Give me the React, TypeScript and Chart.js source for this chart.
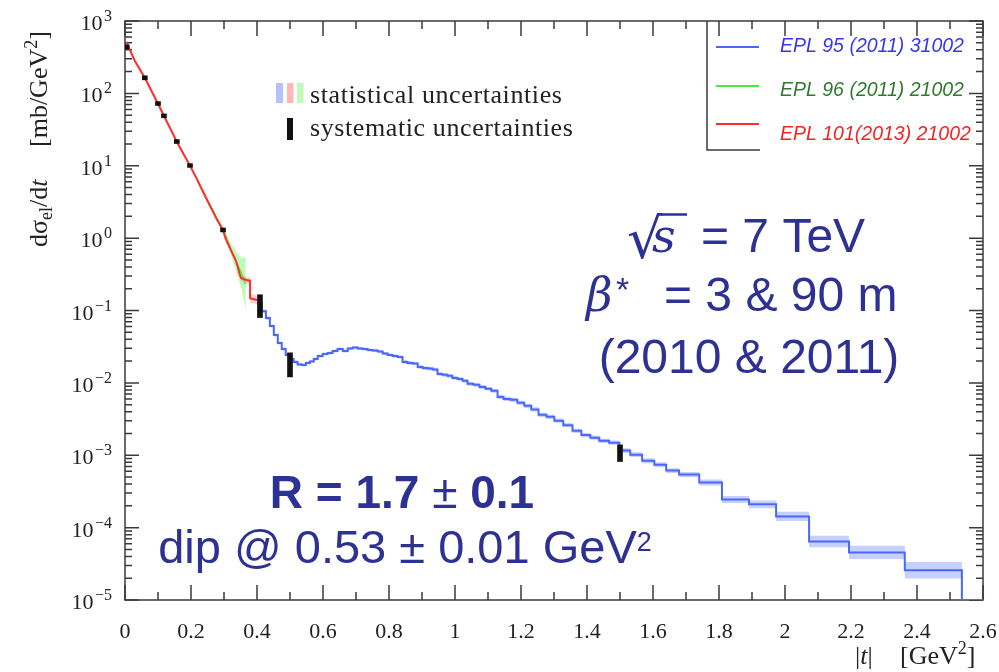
import React, { useEffect, useRef } from "react";
import { Chart, registerables } from "chart.js";

Chart.register(...registerables);

// ---- EPL 95 (2011) 31002 : histogram bin edges |t| [GeV^2] and dσ/dt [mb/GeV^2]
const blueEdges = [
  0.400, 0.415, 0.427, 0.439, 0.451, 0.463, 0.475, 0.487, 0.499, 0.511,
  0.523, 0.536, 0.548, 0.560, 0.572, 0.584, 0.599, 0.614, 0.629, 0.644,
  0.660, 0.675, 0.690, 0.705, 0.720, 0.735, 0.750, 0.766, 0.781, 0.796,
  0.811, 0.826, 0.841, 0.856, 0.871, 0.887, 0.902, 0.917, 0.932, 0.947,
  0.962, 0.977, 0.992, 1.008, 1.023, 1.038, 1.056, 1.074, 1.092, 1.110,
  1.129, 1.147, 1.168, 1.189, 1.210, 1.231, 1.253, 1.277, 1.301, 1.328,
  1.356, 1.383, 1.410, 1.437, 1.467, 1.498, 1.531, 1.567, 1.604, 1.640,
  1.679, 1.740, 1.809, 1.891, 1.973, 2.073, 2.194, 2.363, 2.536, 2.600,
];
const blueValues = [
  0.126, 0.098, 0.0785, 0.061, 0.0458, 0.0356, 0.0294, 0.0243, 0.0214, 0.0195,
  0.0180, 0.0177, 0.0188, 0.0198, 0.0214, 0.0235, 0.0251, 0.0259, 0.0276, 0.0294,
  0.0276, 0.0299, 0.0309, 0.0299, 0.0294, 0.0285, 0.0280, 0.0272, 0.0255, 0.0243,
  0.0235, 0.0228, 0.0195, 0.0188, 0.0185, 0.0166, 0.0160, 0.0158, 0.0153, 0.0133,
  0.0129, 0.0125, 0.0117, 0.0113, 0.01066, 0.0097, 0.0094, 0.0088, 0.0083, 0.00776,
  0.0064, 0.0060, 0.00583, 0.0053, 0.00482, 0.0043, 0.00362, 0.0034, 0.0030, 0.0026,
  0.00218, 0.0019, 0.00175, 0.00158, 0.00149, 0.00116, 0.00102, 0.00084, 0.00074, 0.000614,
  0.00054, 0.00042, 0.000245, 0.00021, 0.000143, 0.0000645, 0.0000455, 0.0000257, 0.00001,
];
// relative statistical uncertainty per bin
const blueStat = [
  0.05, 0.05, 0.05, 0.05, 0.05, 0.05, 0.05, 0.05, 0.05, 0.05,
  0.05, 0.05, 0.05, 0.05, 0.05, 0.05, 0.05, 0.05, 0.05, 0.05,
  0.05, 0.05, 0.05, 0.05, 0.05, 0.05, 0.05, 0.05, 0.05, 0.05,
  0.05, 0.05, 0.06, 0.06, 0.06, 0.06, 0.06, 0.06, 0.06, 0.06,
  0.06, 0.06, 0.06, 0.06, 0.06, 0.06, 0.06, 0.06, 0.06, 0.06,
  0.07, 0.07, 0.07, 0.07, 0.07, 0.07, 0.07, 0.07, 0.07, 0.07,
  0.07, 0.07, 0.07, 0.07, 0.07, 0.08, 0.08, 0.08, 0.08, 0.08,
  0.09, 0.10, 0.12, 0.13, 0.16, 0.20, 0.23, 0.30, 0.0,
];

// ---- EPL 101 (2013) 21002
const redT = [0.004, 0.03, 0.06, 0.10, 0.118, 0.157, 0.197, 0.217, 0.247, 0.277, 0.297,
  0.305, 0.315, 0.325, 0.335, 0.342, 0.348, 0.352, 0.372, 0.379, 0.379, 0.400];
const redValues = [514, 280, 164, 72, 49, 21.5, 10, 6.7, 3.5, 1.87, 1.3,
  0.98, 0.78, 0.62, 0.50, 0.40, 0.31, 0.28, 0.26, 0.26, 0.148, 0.14];
const redStat = [0.04, 0.04, 0.04, 0.04, 0.04, 0.04, 0.04, 0.05, 0.05, 0.05, 0.06,
  0.07, 0.08, 0.08, 0.09, 0.10, 0.10, 0.10, 0.12, 0.12, 0.15, 0.15];

// ---- EPL 96 (2011) 21002
const greenT = [0.22, 0.25, 0.28, 0.30, 0.32, 0.34, 0.355, 0.366];
const greenValues = [6.1, 3.3, 1.8, 1.2, 0.72, 0.44, 0.31, 0.23];
const greenStat = [0.05, 0.06, 0.08, 0.12, 0.2, 0.4, 0.7, 1.4];

// ---- systematic uncertainty bands (low / high)
const sysT = [0.005, 0.06, 0.10, 0.118, 0.157, 0.197, 0.297, 0.409, 0.50, 1.50];
const sysLo = [412, 154, 68, 46, 20.3, 9.5, 1.22, 0.08, 0.0121, 0.00082];
const sysHi = [468, 175, 77, 52, 23, 10.7, 1.38, 0.165, 0.026, 0.00139];

// ---- axes
const xMajorTicks = [0, 0.2, 0.4, 0.6, 0.8, 1.0, 1.2, 1.4, 1.6, 1.8, 2.0, 2.2, 2.4, 2.6];
const xTickLabels = ["0", "0.2", "0.4", "0.6", "0.8", "1", "1.2", "1.4", "1.6", "1.8", "2", "2.2", "2.4", "2.6"];
const xMinorTicks = [0.1, 0.3, 0.5, 0.7, 0.9, 1.1, 1.3, 1.5, 1.7, 1.9, 2.1, 2.3, 2.5];
const yDecades = [-5, -4, -3, -2, -1, 0, 1, 2, 3];
const yExpLabels = ["\u22125", "\u22124", "\u22123", "\u22122", "\u22121", "0", "1", "2", "3"];
const logMantissas = [2, 3, 4, 5, 6, 7, 8, 9];

const legendLabels = ["EPL 95 (2011) 31002", "EPL 96 (2011) 21002", "EPL 101(2013) 21002"];

const BLUE = "#4a68ff";
const RED = "#ff2e2e";
const GREEN = "#3cf03c";
const NAVY = "#2d3193";
const AXIS = "#3a3a3a";
const SERIF = '"Liberation Serif", "Times New Roman", serif';
const SANS = '"Liberation Sans", Arial, sans-serif';
const MATH = '"DejaVu Serif", serif';

type Run = { t: string; f: string; dy?: number; dx?: number };

function runsWidth(ctx: CanvasRenderingContext2D, runs: Run[]) {
  let w = 0;
  for (const r of runs) {
    ctx.font = r.f;
    w += (r.dx || 0) + ctx.measureText(r.t).width;
  }
  return w;
}

function drawRuns(ctx: CanvasRenderingContext2D, runs: Run[], x: number, y: number, align: "left" | "center" | "right" = "left") {
  const w = runsWidth(ctx, runs);
  let cx = align === "center" ? x - w / 2 : align === "right" ? x - w : x;
  ctx.textAlign = "left";
  for (const r of runs) {
    ctx.font = r.f;
    cx += r.dx || 0;
    ctx.fillText(r.t, cx, y + (r.dy || 0));
    cx += ctx.measureText(r.t).width;
  }
  return cx;
}

function stepPoints(edges: number[], vals: number[], scale: (v: number, i: number) => number) {
  const pts = vals.map((v, i) => ({ x: edges[i], y: scale(v, i) }));
  pts.push({ x: edges[edges.length - 1], y: scale(vals[vals.length - 1], vals.length - 1) });
  return pts;
}

const framePlugin = {
  id: "frameTicks",
  beforeDatasetsDraw(chart: any) {
    const { ctx, chartArea: a, scales } = chart;
    const xs = scales.x;
    const ys = scales.y;
    ctx.save();
    ctx.strokeStyle = AXIS;
    ctx.lineWidth = 1.5;
    ctx.strokeRect(a.left, a.top, a.right - a.left, a.bottom - a.top);
    ctx.beginPath();
    const xTick = (v: number, len: number) => {
      const p = xs.getPixelForValue(v);
      ctx.moveTo(p, a.bottom);
      ctx.lineTo(p, a.bottom - len);
      ctx.moveTo(p, a.top);
      ctx.lineTo(p, a.top + len);
    };
    xMajorTicks.forEach((v) => xTick(v, 15));
    xMinorTicks.forEach((v) => xTick(v, 8));
    const yTick = (v: number, len: number) => {
      const p = ys.getPixelForValue(v);
      ctx.moveTo(a.left, p);
      ctx.lineTo(a.left + len, p);
      ctx.moveTo(a.right, p);
      ctx.lineTo(a.right - len, p);
    };
    yDecades.forEach((d) => yTick(Math.pow(10, d), 14));
    yDecades.slice(0, -1).forEach((d) => logMantissas.forEach((m) => yTick(m * Math.pow(10, d), 7)));
    ctx.stroke();
    ctx.restore();
  },
  afterDraw(chart: any) {
    const { ctx, chartArea: a, scales } = chart;
    const xs = scales.x;
    const ys = scales.y;
    ctx.save();
    ctx.textBaseline = "alphabetic";
    ctx.fillStyle = "#222";

    // tick labels
    ctx.font = `22px ${SERIF}`;
    ctx.textAlign = "center";
    xMajorTicks.forEach((v, i) => ctx.fillText(xTickLabels[i], xs.getPixelForValue(v), 638));
    yDecades.forEach((d, i) => {
      const p = ys.getPixelForValue(Math.pow(10, d));
      drawRuns(ctx, [
        { t: "10", f: `22px ${SERIF}` },
        { t: yExpLabels[i], f: `16px ${SERIF}`, dy: -9, dx: 1.5 },
      ], 112, p + 9, "right");
    });

    // axis titles
    drawRuns(ctx, [
      { t: "|", f: `26px ${SERIF}` },
      { t: "t", f: `italic 26px ${SERIF}` },
      { t: "|", f: `26px ${SERIF}` },
    ], 855, 664);
    drawRuns(ctx, [
      { t: "[GeV", f: `26px ${SERIF}` },
      { t: "2", f: `18px ${SERIF}`, dy: -10 },
      { t: "]", f: `26px ${SERIF}` },
    ], 900, 664);

    ctx.save();
    ctx.translate(47, 247);
    ctx.rotate(-Math.PI / 2);
    drawRuns(ctx, [
      { t: "d", f: `26px ${SERIF}` },
      { t: "\u03c3", f: `26px ${SERIF}` },
      { t: "el", f: `18px ${SERIF}`, dy: 5 },
      { t: "/d", f: `26px ${SERIF}` },
      { t: "t", f: `italic 26px ${SERIF}` },
    ], 0, 0);
    drawRuns(ctx, [
      { t: "[mb/GeV", f: `26px ${SERIF}` },
      { t: "2", f: `18px ${SERIF}`, dy: -10 },
      { t: "]", f: `26px ${SERIF}` },
    ], 100, 0);
    ctx.restore();

    // uncertainty key
    ctx.fillStyle = "rgb(182,192,255)";
    ctx.fillRect(276, 83, 7, 20);
    ctx.fillStyle = "rgb(255,182,182)";
    ctx.fillRect(287, 83, 6.5, 20);
    ctx.fillStyle = "rgb(192,250,182)";
    ctx.fillRect(297, 83, 6.5, 20);
    ctx.fillStyle = "#111";
    ctx.fillRect(287, 118, 6, 22);
    ctx.fillStyle = "#222";
    ctx.font = `26px ${SERIF}`;
    ctx.textAlign = "left";
    (ctx as any).letterSpacing = "0.6px";
    ctx.fillText("statistical uncertainties", 310, 103);
    ctx.fillText("systematic uncertainties", 310, 136);
    (ctx as any).letterSpacing = "0px";

    // publication legend
    ctx.strokeStyle = AXIS;
    ctx.lineWidth = 1.5;
    ctx.beginPath();
    ctx.moveTo(707, a.top);
    ctx.lineTo(707, 150);
    ctx.lineTo(760, 150);
    ctx.stroke();
    const legendColors = [BLUE, GREEN, RED];
    const legendText = ["#3636f2", "#2f7a2f", "#f52424"];
    const legendLineY = [47, 86, 124];
    const legendBase = [52, 96, 140];
    legendLabels.forEach((lab, i) => {
      ctx.strokeStyle = legendColors[i];
      ctx.lineWidth = 2;
      ctx.beginPath();
      ctx.moveTo(716, legendLineY[i]);
      ctx.lineTo(759, legendLineY[i]);
      ctx.stroke();
      ctx.fillStyle = legendText[i];
      ctx.font = `italic 19.5px ${SANS}`;
      ctx.fillText(lab, 780, legendBase[i]);
    });

    // run conditions
    ctx.fillStyle = NAVY;
    ctx.strokeStyle = NAVY;
    ctx.font = `100px "DejaVu Sans"`;
    let m = ctx.measureText("\u221a");
    const h100 = m.actualBoundingBoxAscent + m.actualBoundingBoxDescent;
    const rs = (100 * 47) / h100;
    ctx.font = `${rs}px "DejaVu Sans"`;
    m = ctx.measureText("\u221a");
    const rX = 628 + m.actualBoundingBoxLeft;
    ctx.fillText("\u221a", rX, 213 + m.actualBoundingBoxAscent);
    const rRight = rX + m.actualBoundingBoxRight;
    ctx.font = `italic 46px ${MATH}`;
    ctx.fillText("s", 652, 252);
    ctx.lineWidth = 2.5;
    ctx.beginPath();
    ctx.moveTo(rRight - 2, 214.5);
    ctx.lineTo(687, 214.5);
    ctx.stroke();
    ctx.font = `48px ${SANS}`;
    ctx.fillText("= 7 TeV", 701, 252);

    ctx.font = `italic 46px ${MATH}`;
    ctx.fillText("\u03b2", 586, 311);
    ctx.font = `34px ${SANS}`;
    ctx.fillText("*", 616, 301);
    ctx.font = `48px ${SANS}`;
    ctx.fillText("= 3 & 90 m", 664, 311);
    ctx.textAlign = "center";
    ctx.fillText("(2010 & 2011)", 749, 373);

    drawRuns(ctx, [
      { t: "R = 1.7 ", f: `bold 46px ${SANS}` },
      { t: "\u00b1", f: `46px ${SANS}` },
      { t: " 0.1", f: `bold 46px ${SANS}` },
    ], 402, 508, "center");
    drawRuns(ctx, [
      { t: "dip @ 0.53 \u00b1 0.01 GeV", f: `47px ${SANS}` },
      { t: "2", f: `27px ${SANS}`, dy: -12 },
    ], 405, 563, "center");

    ctx.restore();
  },
};

export default function App() {
  const canvasRef = useRef<HTMLCanvasElement | null>(null);

  useEffect(() => {
    const canvas = canvasRef.current;
    if (!canvas) return;

    const line = (data: any[], color: string, width: number, order: number, stepped: boolean) => ({
      type: "line" as const,
      data,
      borderColor: color,
      borderWidth: width,
      pointRadius: 0,
      fill: false,
      stepped,
      order,
    });
    const bandEdge = (data: any[], color: string, order: number, stepped: boolean, fill: any) => ({
      type: "line" as const,
      data,
      borderColor: "rgba(0,0,0,0)",
      borderWidth: 0,
      backgroundColor: color,
      pointRadius: 0,
      fill,
      stepped,
      order,
    });

    const blueMain = stepPoints(blueEdges, blueValues, (v) => v);
    const blueLow = stepPoints(blueEdges, blueValues, (v, i) => v / (1 + blueStat[i]));
    const blueHigh = stepPoints(blueEdges, blueValues, (v, i) => v * (1 + blueStat[i]));
    const redMain = redT.map((t, i) => ({ x: t, y: redValues[i] }));
    const redLow = redT.map((t, i) => ({ x: t, y: redValues[i] / (1 + redStat[i]) }));
    const redHigh = redT.map((t, i) => ({ x: t, y: redValues[i] * (1 + redStat[i]) }));
    const greenMain = greenT.map((t, i) => ({ x: t, y: greenValues[i] }));
    const greenLow = greenT.map((t, i) => ({ x: t, y: greenValues[i] / (1 + greenStat[i]) }));
    const greenHigh = greenT.map((t, i) => ({ x: t, y: greenValues[i] * (1 + greenStat[i]) }));

    const chart = new Chart(canvas, {
      type: "line",
      data: {
        datasets: [
          {
            type: "bar",
            data: sysT.map((t, i) => ({ x: t, y: [sysLo[i], sysHi[i]] })),
            backgroundColor: "#111",
            borderWidth: 0,
            barThickness: 5,
            order: 0,
          } as any,
          line(redMain, RED, 2, 1, false),
          line(blueMain, BLUE, 2, 2, true),
          line(greenMain, GREEN, 1.5, 3, false),
          bandEdge(redLow, "rgba(255,150,150,0.45)", 5, false, false),
          bandEdge(redHigh, "rgba(255,150,150,0.45)", 5, false, "-1"),
          bandEdge(greenLow, "rgba(140,245,120,0.55)", 6, false, false),
          bandEdge(greenHigh, "rgba(140,245,120,0.55)", 6, false, "-1"),
          bandEdge(blueLow, "rgba(120,145,255,0.42)", 7, true, false),
          bandEdge(blueHigh, "rgba(120,145,255,0.42)", 7, true, "-1"),
        ],
      },
      options: {
        animation: false,
        responsive: false,
        devicePixelRatio: 1,
        events: [],
        layout: { padding: { left: 125, top: 21, right: 16, bottom: 72 } },
        scales: {
          x: { type: "linear", min: 0, max: 2.6, display: false, offset: false },
          y: { type: "logarithmic", min: 1e-5, max: 1e3, display: false },
        },
        plugins: {
          legend: { display: false },
          tooltip: { enabled: false },
        },
        elements: { line: { tension: 0 }, point: { radius: 0 } },
      },
      plugins: [framePlugin],
    } as any);

    return () => chart.destroy();
  }, []);

  return (
    <div style={{ position: "fixed", left: 0, top: 0, width: 999, height: 672, background: "#fff" }}>
      <canvas ref={canvasRef} width={999} height={672} style={{ display: "block" }} />
    </div>
  );
}
